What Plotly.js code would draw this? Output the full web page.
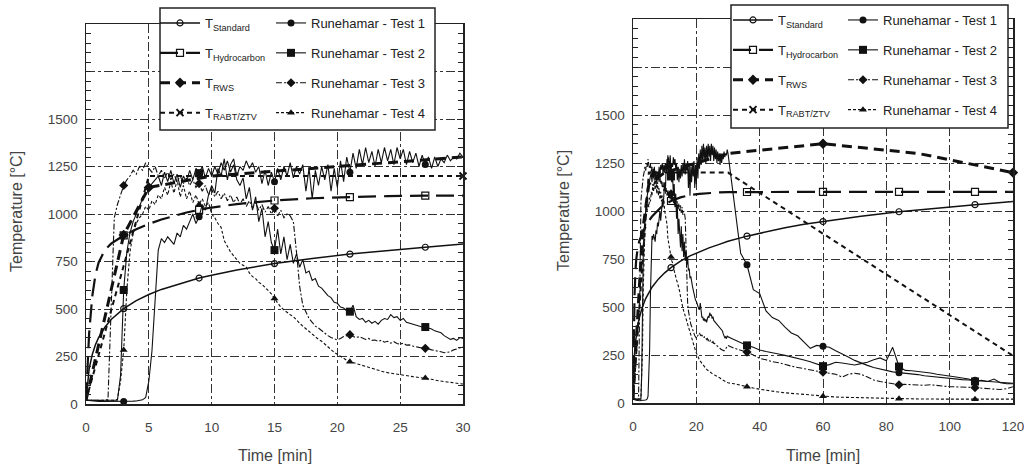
<!DOCTYPE html>
<html>
<head>
<meta charset="utf-8">
<script src="https://cdn.plot.ly/plotly-3.0.1.min.js"></script>
<style>html,body{margin:0;padding:0;background:#fff;}#chart{width:1024px;height:468px;}</style>
</head>
<body>
<div id="chart"></div>
<script>
// ---------- data ----------
const tFine = [0,0.25,0.5,0.75,1,1.25,1.5,1.75,2,2.25,2.5,2.75,3,3.25,3.5,3.75,4,4.25,4.5,4.75,
5,5.25,5.5,5.75,6,6.25,6.5,6.75,7,7.25,7.5,7.75,8,8.25,8.5,8.75,9,9.25,9.5,9.75,
10,10.25,10.5,10.75,11,11.25,11.5,11.75,12,12.25,12.5,12.75,13,13.25,13.5,13.75,14,14.25,14.5,14.75,
15,15.25,15.5,15.75,16,16.25,16.5,16.75,17,17.25,17.5,17.75,18,18.25,18.5,18.75,19,19.25,19.5,19.75,
20,20.25,20.5,20.75,21,21.25,21.5,21.75,22,22.25,22.5,22.75,23,23.25,23.5,23.75,24,24.25,24.5,24.75,
25,25.25,25.5,25.75,26,26.25,26.5,26.75,27,27.25,27.5,27.75,28,28.25,28.5,28.75,29,29.25,29.5,29.75,30];
const tTail = [32,34,36,38,40,42,44,46,48,50,52,54,56,58,60,62,64,66,68,70,72,74,76,78,80,
82,84,86,88,90,92,94,96,98,100,102,104,106,108,110,112,114,116,118,120];

const test1Fine = [20,18,15,14,14,13,13,12,12,12,13,13,13,14,14,15,16,18,22,35,
120,280,560,810,870,850,880,860,840,900,880,940,920,960,1000,950,985,1050,1020,1100,
1150,1110,1240,1200,1290,1180,1260,1290,1200,1250,1230,1280,1240,1270,1220,1250,1160,1230,1150,1220,
1170,1240,1180,1250,1200,1270,1190,1250,1210,1260,1120,1240,1080,1230,1150,1250,1180,1260,1120,1240,
1140,1280,1170,1300,1220,1320,1240,1340,1260,1350,1270,1330,1250,1340,1270,1350,1280,1340,1260,1350,
1290,1340,1260,1330,1270,1320,1250,1310,1260,1300,1240,1300,1250,1290,1270,1310,1280,1300,1290,1320,1300];
const test1Tail = [1050,780,720,590,570,480,445,430,395,365,350,320,285,300,295,290,272,258,240,222,
208,196,185,176,168,162,158,155,152,148,142,138,134,131,128,126,122,120,118,115,112,110,108,105,103];

const test2Fine = [20,20,19,18,18,17,17,17,18,18,20,
150,600,800,900,960,1000,1040,1080,1100,
1130,1160,1180,1200,1150,1220,1170,1230,1160,1210,1140,1200,1170,1230,1180,1240,1215,1250,1190,1240,
1200,1250,1210,1270,1230,1280,1220,1260,1180,1150,1190,1080,1140,1020,1090,960,1030,880,960,850,
810,920,790,880,760,840,740,790,720,760,690,700,650,660,620,610,590,570,560,535,
530,510,505,490,486,520,460,445,450,430,440,425,435,420,440,450,445,470,455,460,
440,450,430,425,420,415,410,405,405,400,395,385,380,375,360,350,340,345,335,350,345];
const test2Tail = [330,315,300,290,276,268,260,255,248,241,232,224,215,205,192,200,212,208,202,198,
205,212,225,235,220,290,190,170,168,165,160,156,150,146,140,135,130,125,112,118,112,125,105,100,100];

const test3Fine = [20,20,19,19,18,18,18,25,
500,980,1050,1100,1150,1180,1200,1230,1210,1250,1230,1270,
1240,1220,1250,1200,1230,1190,1220,1180,1210,1170,1200,1160,1190,1150,1180,1140,1160,1120,1150,1100,
1130,1090,1120,1080,1110,1070,1100,1060,1090,1050,1080,1040,1070,1030,1060,1020,1050,1010,1040,1000,
1030,990,1020,980,1000,990,960,800,620,520,480,450,430,410,400,385,372,360,350,345,
337,345,355,360,365,355,350,354,345,340,345,335,337,330,335,325,330,320,328,318,
315,320,310,311,305,300,298,295,293,290,285,280,278,275,270,272,275,285,290,295,300];
const test3Tail = [285,275,265,250,232,225,215,210,200,192,185,178,172,165,160,155,150,135,150,155,
150,135,120,112,105,100,95,97,95,93,92,95,90,88,85,84,86,82,80,78,75,72,70,75,85];

const test4Fine = [20,20,19,19,18,18,18,18,18,20,25,
120,284,600,800,900,950,980,1000,1040,
1020,1070,1050,1100,1080,1140,1100,1170,1110,1180,1090,1150,1080,1120,1060,1100,1050,1080,1040,1060,
1000,980,950,930,860,830,800,780,760,740,730,720,690,670,660,640,630,615,600,580,
555,530,510,495,480,470,460,440,425,410,395,380,365,355,340,330,315,300,285,272,
262,250,240,230,223,218,212,205,200,196,190,185,180,175,172,168,165,162,158,155,
153,150,148,146,144,142,140,138,137,134,130,126,122,120,118,116,114,112,110,108,105];
const test4Tail = [100,92,85,78,72,66,62,57,53,50,47,44,40,37,35,33,31,30,29,28,
27,26,25,25,24,23,22,22,21,21,21,20,20,20,20,20,20,20,20,20,20,20,20,20,20];

const stdT = [0,0.25,0.5,0.75,1,1.5,2,3,4,5,6,8,9,10,12,15,18,21,24,27,30,36,42,48,54,60,72,84,96,108,120];
const stdV = [20,185,261,312,349,404,445,502,544,576,603,645,663,678,705,739,766,789,808,825,842,869,892,913,931,945,973,996,1016,1033,1049];
const hcT = [0,0.25,0.5,0.75,1,1.5,2,3,4,5,6,8,9,10,12,15,18,21,24,27,30,36,60,84,108,120];
const hcV = [20,373,568,679,744,810,844,887,920,948,971,1008,1022,1034,1052,1071,1083,1089,1094,1097,1098,1099,1100,1100,1100,1100];
const rwsT = [0,3,5,10,30,60,90,120];
const rwsV = [20,890,1140,1200,1300,1350,1300,1200];
const rabtT = [0,5,30,120];
const rabtV = [20,1200,1200,246];

const xTicksLeft = [0,5,10,15,20,25,30];
const xTicksRight = [0,20,40,60,80,100,120];
const yTickVals = [0,250,500,750,1000,1250,1500];
const yGridTop = [1750];

const markLeft = [3,9,15,21,27];
const markRight = [12,36,60,84,108];

const names = ['T<sub>Standard</sub>','T<sub>Hydrocarbon</sub>','T<sub>RWS</sub>','T<sub>RABT/ZTV</sub>',
  'Runehamar - Test 1','Runehamar - Test 2','Runehamar - Test 3','Runehamar - Test 4'];

// ---------- build ----------
const tAll = tFine.concat(tTail);
const test1 = test1Fine.concat(test1Tail);
const test2 = test2Fine.concat(test2Tail);
const test3 = test3Fine.concat(test3Tail);
const test4 = test4Fine.concat(test4Tail);

const K = '#111';
const series = [
  {x: stdT, y: stdV, line:{color:K,width:1.5,dash:'solid'}, mk:{symbol:'circle-open',size:6,color:K,line:{width:1.2,color:K}}, mL: markLeft, mR: markRight},
  {x: hcT, y: hcV, line:{color:K,width:2.2,dash:'18px,8px'}, mk:{symbol:'square-open',size:7,color:K,line:{width:1.2,color:K}}, mL: markLeft, mR: markRight},
  {x: rwsT, y: rwsV, line:{color:K,width:3,dash:'10px,6px'}, mk:{symbol:'diamond',size:8,color:K}, mL: [3,5], mR: [60,120]},
  {x: rabtT, y: rabtV, line:{color:K,width:2,dash:'5px,4px'}, mk:{symbol:'x-thin-open',size:7,color:K,line:{width:2,color:K}}, mL: [30], mR: []},
  {x: tAll, y: test1, line:{color:K,width:1.1,dash:'solid'}, mk:{symbol:'circle',size:7,color:K}, mL: markLeft, mR: markRight},
  {x: tAll, y: test2, line:{color:K,width:1.1,dash:'solid'}, mk:{symbol:'square',size:8,color:K}, mL: markLeft, mR: markRight},
  {x: tAll, y: test3, line:{color:K,width:1.1,dash:'6px,2px,2px,2px'}, mk:{symbol:'diamond',size:7,color:K}, mL: markLeft, mR: markRight},
  {x: tAll, y: test4, line:{color:K,width:1.1,dash:'3px,2px'}, mk:{symbol:'triangle-up',size:7,color:K}, mL: markLeft, mR: markRight}
];

function pick(xs, ys, ts){ return ts.map(t => ys[xs.indexOf(t)]); }

const traces = [];
series.forEach((s, i) => {
  [['x','y',s.mL],['x2','y2',s.mR]].forEach(([xa, ya, marks]) => {
    traces.push({type:'scatter', mode:'lines', x:s.x, y:s.y, xaxis:xa, yaxis:ya, line:s.line, showlegend:false, hoverinfo:'skip'});
    if (marks.length) traces.push({type:'scatter', mode:'markers', x:marks, y:pick(s.x, s.y, marks), xaxis:xa, yaxis:ya, marker:s.mk, showlegend:false, hoverinfo:'skip', cliponaxis:false});
  });
});
// legend entries (no data drawn)
series.forEach((s, i) => {
  const col = i < 4 ? 0 : 1;
  traces.push({type:'scatter', mode:'lines+markers', x:[null], y:[null], xaxis:'x', yaxis:'y', name:names[i], line:s.line, marker:s.mk,
    legend: col === 0 ? 'legend' : 'legend2', legendgroup:'L'+i, showlegend:true});
  traces.push({type:'scatter', mode:'lines+markers', x:[null], y:[null], xaxis:'x2', yaxis:'y2', name:names[i], line:s.line, marker:s.mk,
    legend: col === 0 ? 'legend3' : 'legend4', legendgroup:'R'+i, showlegend:true});
});

const FONT = 'Liberation Sans, Arial, sans-serif';
const W = 1024, H = 468;
const px = v => v / W, py = v => 1 - v / H;
const GRID = {showgrid:true, gridcolor:'#333', gridwidth:1, griddash:'dashdot'};

function xax(domain, range, tv){
  return Object.assign({domain, range, tickvals: tv, ticks:'',
    showline:true, linecolor:'#222', linewidth:1.5, mirror:true, zeroline:false, ticklabeloverflow:'allow',
    tickfont:{family:FONT,size:13.5,color:'#444'}, ticklabelstandoff:10, fixedrange:true}, GRID);
}
function yax(domain, anchor){
  return Object.assign({domain, range:[0,2000], anchor, tickvals:yTickVals, ticks:'inside', ticklen:6, tickcolor:'#222',
    minor:{dtick:50, ticks:'inside', ticklen:5, tickcolor:'#222', showgrid:false},
    showline:true, linecolor:'#222', linewidth:1.5, mirror:'allticks', zeroline:false,
    tickfont:{family:FONT,size:13.5,color:'#444'}, ticklabelstandoff:4, fixedrange:true}, GRID);
}
function yTop(domain, anchor, over){
  return Object.assign({domain, range:[0,2000], anchor, overlaying:over, tickvals:yGridTop, showticklabels:false, ticks:'',
    showline:false, zeroline:false, fixedrange:true}, GRID);
}
function leg(xpix, ypix, iw){
  return {x:px(xpix), y:py(ypix), xanchor:'left', yanchor:'top', bgcolor:'rgba(0,0,0,0)', borderwidth:0,
    font:{family:FONT,size:13,color:'#222'}, itemwidth:iw, tracegroupgap:10, traceorder:'grouped'};
}

traces.push({type:'scatter', mode:'lines', x:[null], y:[null], xaxis:'x', yaxis:'y3', showlegend:false, hoverinfo:'skip'});
traces.push({type:'scatter', mode:'lines', x:[null], y:[null], xaxis:'x2', yaxis:'y4', showlegend:false, hoverinfo:'skip'});

const layout = {
  width:W, height:H, margin:{l:0,r:0,t:0,b:0}, paper_bgcolor:'#fff', plot_bgcolor:'#fff',
  font:{family:FONT, color:'#333'},
  xaxis: xax([px(86), px(463)], [0,30], xTicksLeft),
  yaxis: yax([1-404/H, 1-24/H], 'x'),
  xaxis2: Object.assign(xax([px(633), px(1013)], [0,120], xTicksRight), {anchor:'y2'}),
  yaxis2: yax([1-403/H, 1-19/H], 'x2'),
  yaxis3: yTop([1-404/H, 1-24/H], 'x', 'y'),
  yaxis4: yTop([1-403/H, 1-19/H], 'x2', 'y2'),
  legend: leg(155, 8, 40), legend2: leg(271, 8, 30), legend3: leg(728, 5, 40), legend4: leg(843, 5, 30),
  shapes: [
    {type:'rect', xref:'paper', yref:'paper', x0:px(160), x1:px(435), y0:py(130), y1:py(8), line:{color:'#222',width:1.5}, fillcolor:'#fff', layer:'above'},
    {type:'rect', xref:'paper', yref:'paper', x0:px(731), x1:px(1008), y0:py(128), y1:py(5), line:{color:'#222',width:1.5}, fillcolor:'#fff', layer:'above'}
  ],
  annotations: [
    {text:'Temperature [°C]', xref:'paper', yref:'paper', x:px(17), y:py(212), xanchor:'center', yanchor:'middle', textangle:-90, showarrow:false, font:{family:FONT,size:16,color:'#444'}},
    {text:'Temperature [°C]', xref:'paper', yref:'paper', x:px(564), y:py(211), xanchor:'center', yanchor:'middle', textangle:-90, showarrow:false, font:{family:FONT,size:16,color:'#444'}},
    {text:'Time [min]', xref:'paper', yref:'paper', x:px(275), y:py(455), xanchor:'center', yanchor:'middle', showarrow:false, font:{family:FONT,size:16,color:'#444'}},
    {text:'Time [min]', xref:'paper', yref:'paper', x:px(823), y:py(455), xanchor:'center', yanchor:'middle', showarrow:false, font:{family:FONT,size:16,color:'#444'}}
  ]
};

Plotly.newPlot('chart', traces, layout, {displayModeBar:false, staticPlot:true}).then(gd => {
  // drop the empty zero-width spacers Plotly adds around <sub>
  const onlyZW = s => /^[\u200b\s]*$/.test(s);
  gd.querySelectorAll('tspan').forEach(t => {
    if (!t.children.length && onlyZW(t.textContent)) t.remove();
  });
  gd.querySelectorAll('text, tspan').forEach(el => {
    Array.from(el.childNodes).forEach(n => {
      if (n.nodeType === 3 && onlyZW(n.nodeValue) && el.childNodes.length > 1) n.remove();
    });
  });
});
</script>
</body>
</html>
